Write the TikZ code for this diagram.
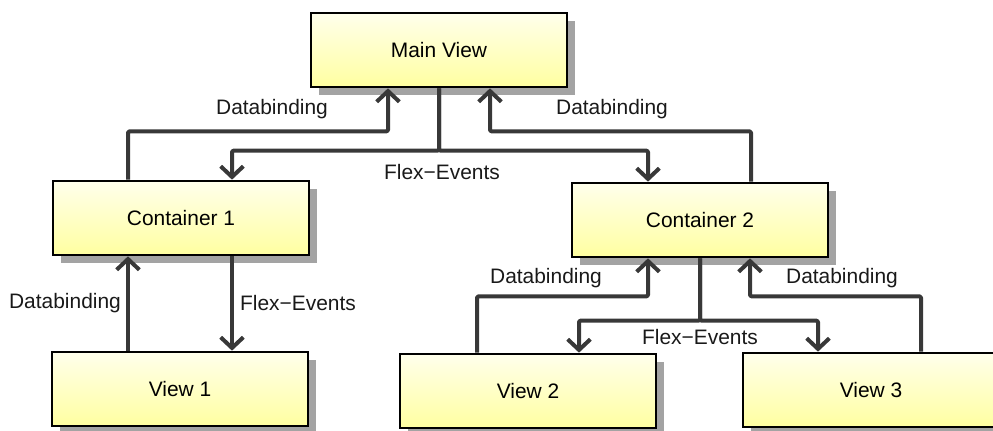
\documentclass[tikz,border=0pt]{standalone}
\usepackage{fontspec}
\setmainfont{Liberation Sans}
\usetikzlibrary{arrows.meta,calc,shadows}

\definecolor{boxtop}{RGB}{255,255,236}
\definecolor{boxbottom}{RGB}{255,255,160}
\definecolor{wire}{RGB}{56,56,56}
\definecolor{shade}{RGB}{163,163,163}

\tikzset{
  unit/.style={x=0.75pt,y=-0.75pt},
  block/.style={draw=black,line width=1.5pt,rectangle,
    minimum width=192pt,minimum height=56pt,inner sep=0pt,
    top color=boxtop,bottom color=boxbottom,
    font=\fontsize{15.7}{18}\selectfont,
    drop shadow={shadow xshift=6pt,shadow yshift=-6pt,fill=shade,opacity=1}},
  conn/.style={draw=wire,line width=3pt,line join=round,rounded corners=1pt,
    -{Straight Barb[length=8pt,width=17pt]}},
  lbl/.style={font=\fontsize{15.7}{18}\selectfont,inner sep=0pt,text=black!90},
}

\begin{document}
\begin{tikzpicture}[unit]
\useasboundingbox (0,0) rectangle (993,430);
\clip (0,0) rectangle (993,430);

% boxes
\node[block] (main) at (439,50)  {Main View};
\node[block] (c1)   at (181,218) {Container 1};
\node[block] (c2)   at (700,220) {Container 2};
\node[block] (v1)   at (180,389) {View 1};
\node[block] (v2)   at (528,391) {View 2};
\node[block] (v3)   at (871,390) {View 3};

% containers -> main view (databinding)
\draw[conn] ($(c1.north)+(-53,0)$) |- ($(main.south)+(-51,43)$) -- ($(main.south)+(-51,0)$);
\draw[conn] ($(c2.north)+(51,0)$) |- ($(main.south)+(51,43)$) -- ($(main.south)+(51,0)$);

% main view -> containers (events)
\draw[conn] (main.south) |- ($(c1.north)+(51,-29)$) -- ($(c1.north)+(51,0)$);
\draw[conn] (main.south) |- ($(c2.north)+(-52,-31)$) -- ($(c2.north)+(-52,0)$);

% container 1 <-> view 1
\draw[conn] ($(v1.north)+(-52,0)$) -- ($(c1.south)+(-53,0)$);
\draw[conn] ($(c1.south)+(51,0)$) -- ($(v1.north)+(52,0)$);

% views 2, 3 -> container 2 (databinding)
\draw[conn] ($(v2.north)+(-51,0)$) |- ($(c2.south)+(-52,38)$) -- ($(c2.south)+(-52,0)$);
\draw[conn] ($(v3.north)+(50,0)$) |- ($(c2.south)+(50,38)$) -- ($(c2.south)+(50,0)$);

% container 2 -> views 2, 3 (events)
\draw[conn] (c2.south) |- ($(v2.north)+(51,-32)$) -- ($(v2.north)+(51,0)$);
\draw[conn] (c2.south) |- ($(v3.north)+(-53,-31)$) -- ($(v3.north)+(-53,0)$);

% labels
\node[lbl] (l1) at (272,109) {Databinding};
\node[lbl] (l2) at (612,109) {Databinding};
\node[lbl] (l3) at (442,172) {Flex−Events};
\node[lbl] (l4) at (65,303)  {Databinding};
\node[lbl] (l5) at (298,303) {Flex−Events};
\node[lbl] (l6) at (546,278) {Databinding};
\node[lbl] (l7) at (700,337) {Flex−Events};
\node[lbl] (l8) at (842,278) {Databinding};
\end{tikzpicture}
\end{document}
